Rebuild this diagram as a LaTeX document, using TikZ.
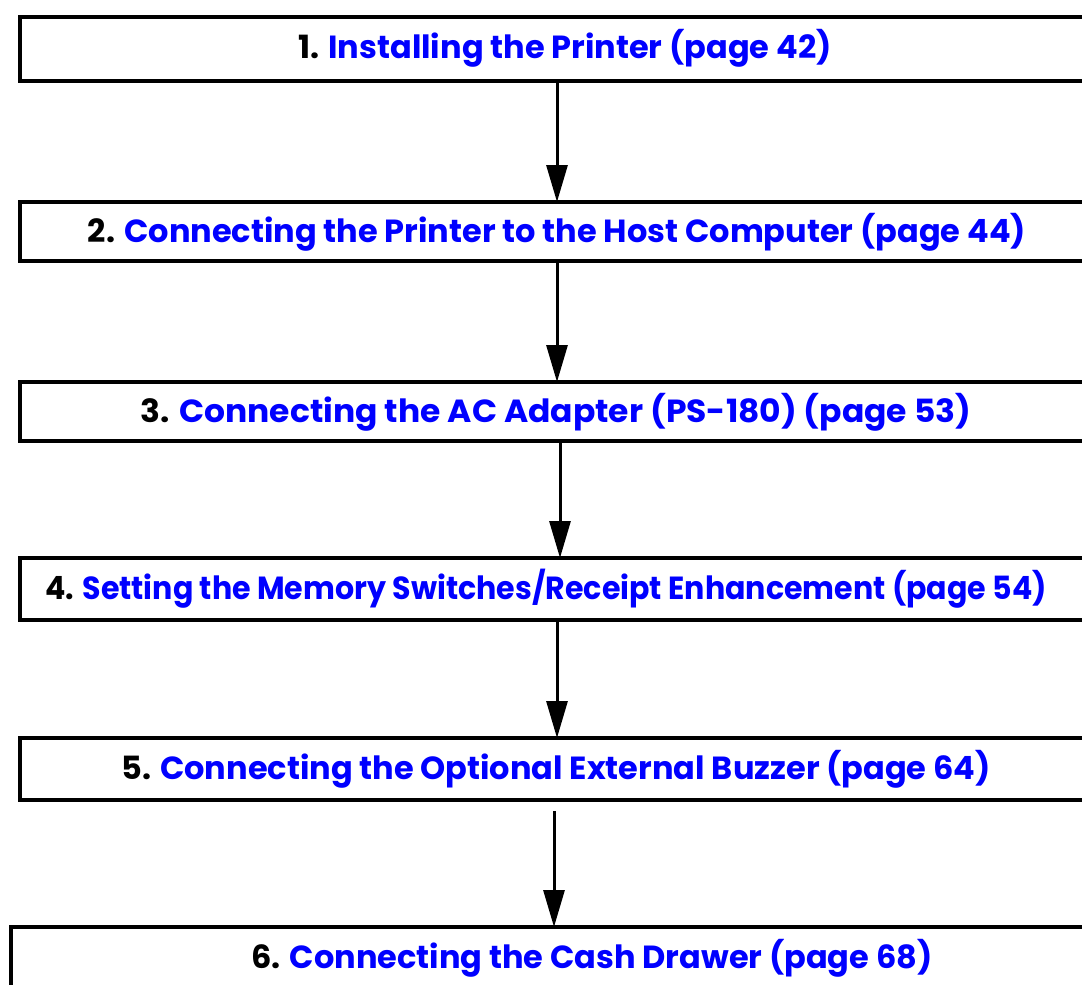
\documentclass[tikz,border=0pt]{standalone}
\usepackage{fontspec}
\setmainfont{Poppins}
\usetikzlibrary{arrows.meta}
\definecolor{linkblue}{RGB}{0,0,255}
\begin{document}
\begin{tikzpicture}[x=1pt,y=-1pt,
  box/.style={draw, line width=3.5pt, minimum width=1100pt, minimum height=#1,
    anchor=north west, inner sep=0pt, outer sep=0pt},
  lbl/.style={anchor=base, inner sep=0pt, font=\fontsize{32}{38}\selectfont\bfseries},
  arr/.style={line width=3pt, -{Triangle[width=21pt,length=37pt]}}]
\useasboundingbox (0,0) rectangle (1082,985);
\node[box=64pt] (b1) at (20,17) {};
\node[box=59pt] (b2) at (20,202) {};
\node[box=59pt] (b3) at (20,382) {};
\node[box=62pt] (b4) at (20,558) {};
\node[box=62pt] (b5) at (20,738) {};
\node[box=120pt] (b6) at (11,927) {};
\node[lbl] (t1) at (565,58) {1. \textcolor{linkblue}{Installing the Printer (page 42)}};
\node[lbl] (t2) at (557,242) {2. \textcolor{linkblue}{Connecting the Printer to the Host Computer (page 44)}};
\node[lbl] (t3) at (556,422) {\scalebox{1.03}[1]{3. \textcolor{linkblue}{Connecting the AC Adapter (PS-180) (page 53)}}};
\node[lbl] (t4) at (546,599) {\scalebox{0.94}[1]{4. \textcolor{linkblue}{Setting the Memory Switches/Receipt Enhancement (page 54)}}};
\node[lbl] (t5) at (556,779) {5. \textcolor{linkblue}{Connecting the Optional External Buzzer (page 64)}};
\node[lbl] (t6) at (592,968) {6. \textcolor{linkblue}{Connecting the Cash Drawer (page 68)}};
\draw[arr] ([xshift=537pt]b1.south west) -- ([xshift=537pt]b2.north west);
\draw[arr] ([xshift=537pt]b2.south west) -- ([xshift=537pt]b3.north west);
\draw[arr] ([xshift=540pt]b3.south west) -- ([xshift=540pt]b4.north west);
\draw[arr] ([xshift=537pt]b4.south west) -- ([xshift=537pt]b5.north west);
\draw[arr] ([xshift=534pt,yshift=-11pt]b5.south west) -- ([xshift=543pt]b6.north west);
\end{tikzpicture}
\end{document}
